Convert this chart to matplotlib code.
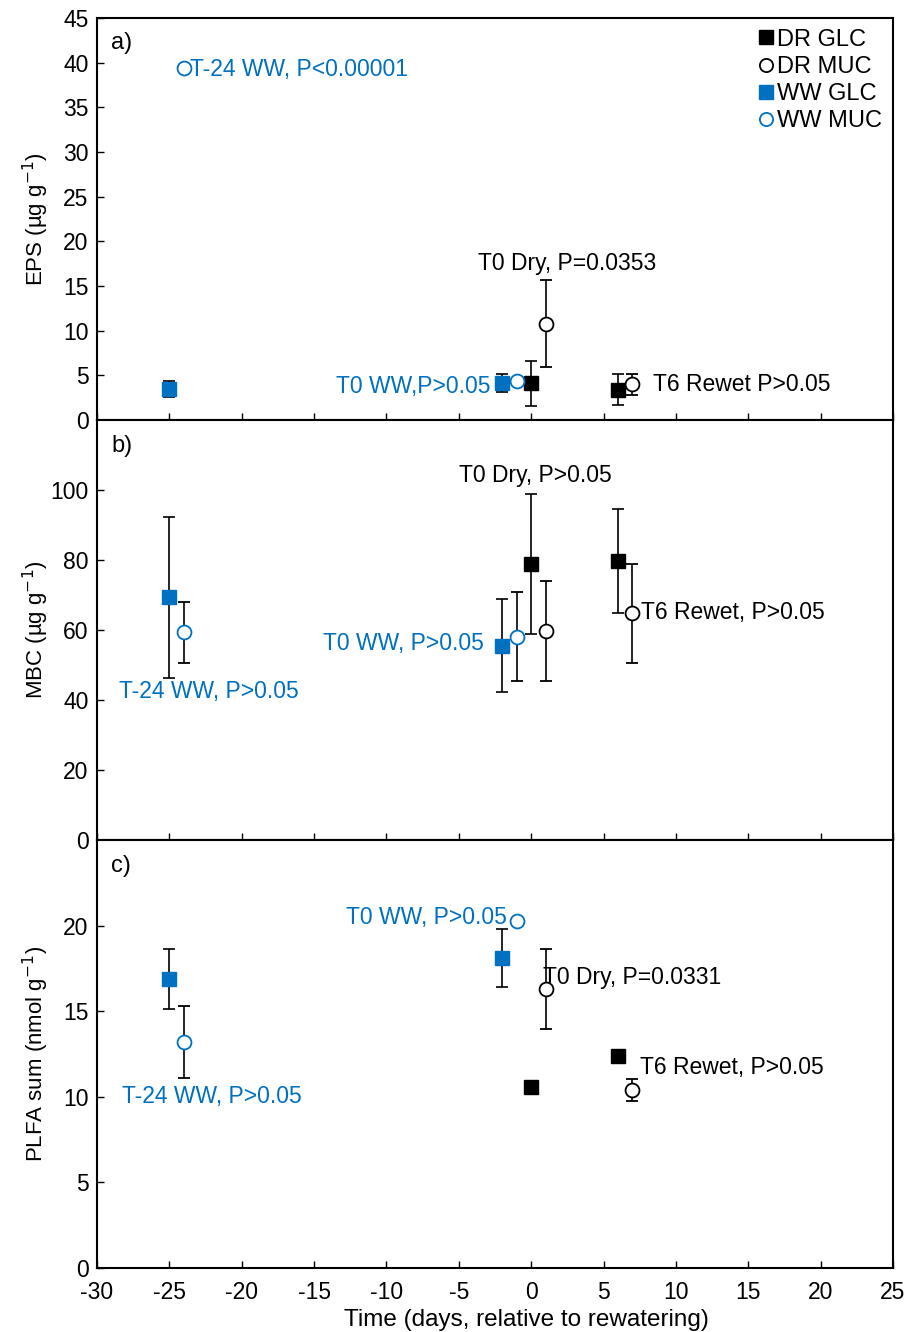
import numpy as np
import matplotlib.pyplot as plt
from matplotlib.lines import Line2D

plt.rcParams['font.family'] = ['Liberation Sans', 'DejaVu Sans']
plt.rcParams['font.size'] = 16.5
plt.rcParams['axes.unicode_minus'] = False

blue = '#0070C0'

# x positions (days, offset so the groups don't overlap)
x_ww_glc = [-25, -2]
x_ww_muc = [-24, -1]
x_dr_glc = [0, 6]
x_dr_muc = [1, 7]

# panel a: EPS
eps_ww_glc = [3.5, 4.1]
eps_ww_glc_err = [0.9, 1.0]
eps_ww_muc = [39.4, 4.4]
eps_ww_muc_err = [0.0, 0.0]
eps_dr_glc = [4.1, 3.4]
eps_dr_glc_err = [2.5, 1.7]
eps_dr_muc = [10.8, 4.0]
eps_dr_muc_err = [4.9, 1.2]

# panel b: MBC
mbc_ww_glc = [69.3, 55.5]
mbc_ww_glc_err = [22.9, 13.3]
mbc_ww_muc = [59.3, 58.1]
mbc_ww_muc_err = [8.6, 12.7]
mbc_dr_glc = [78.9, 79.7]
mbc_dr_glc_err = [20.0, 14.8]
mbc_dr_muc = [59.6, 64.8]
mbc_dr_muc_err = [14.3, 14.1]

# panel c: PLFA sum
plfa_ww_glc = [16.9, 18.1]
plfa_ww_glc_err = [1.75, 1.7]
plfa_ww_muc = [13.2, 20.3]
plfa_ww_muc_err = [2.1, 0.0]
plfa_dr_glc = [10.6, 12.4]
plfa_dr_glc_err = [0.2, 0.2]
plfa_dr_muc = [16.3, 10.4]
plfa_dr_muc_err = [2.35, 0.65]

fig = plt.figure(figsize=(9.17, 13.32), dpi=100)
ax_a = fig.add_axes([0.1058, 0.6847, 0.868, 0.3018])
ax_b = fig.add_axes([0.1058, 0.3694, 0.868, 0.3153])
ax_c = fig.add_axes([0.1058, 0.0480, 0.868, 0.3213])


def draw(ax, wg, wge, wm, wme, dg, dge, dm, dme):
    ms = 10
    ebk = dict(ecolor='black', elinewidth=1.2, capsize=4, capthick=1.2, linestyle='none')
    ax.errorbar(x_dr_glc, dg, yerr=dge, marker='s', ms=ms, mfc='black', mec='black',
                zorder=3, **ebk)
    ax.errorbar(x_dr_muc, dm, yerr=dme, marker='o', ms=ms, mfc='white', mec='black',
                mew=1.3, zorder=3, **ebk)
    ax.errorbar(x_ww_glc, wg, yerr=wge, marker='s', ms=ms, mfc=blue, mec=blue,
                zorder=3, **ebk)
    ax.errorbar(x_ww_muc, wm, yerr=[e if e > 0 else np.nan for e in wme], marker='o', ms=ms,
                mfc='white', mec=blue, mew=1.3, zorder=3, **ebk)


draw(ax_a, eps_ww_glc, eps_ww_glc_err, eps_ww_muc, eps_ww_muc_err,
     eps_dr_glc, eps_dr_glc_err, eps_dr_muc, eps_dr_muc_err)
draw(ax_b, mbc_ww_glc, mbc_ww_glc_err, mbc_ww_muc, mbc_ww_muc_err,
     mbc_dr_glc, mbc_dr_glc_err, mbc_dr_muc, mbc_dr_muc_err)
draw(ax_c, plfa_ww_glc, plfa_ww_glc_err, plfa_ww_muc, plfa_ww_muc_err,
     plfa_dr_glc, plfa_dr_glc_err, plfa_dr_muc, plfa_dr_muc_err)

ax_a.set_ylim(0, 45)
ax_a.set_yticks(np.arange(0, 46, 5))
ax_b.set_ylim(0, 120)
ax_b.set_yticks(np.arange(0, 101, 20))
ax_c.set_ylim(0, 25)
ax_c.set_yticks(np.arange(0, 21, 5))

for ax in (ax_a, ax_b, ax_c):
    ax.set_xlim(-30, 25)
    ax.set_xticks(np.arange(-30, 26, 5))
    ax.tick_params(direction='in', length=5, width=1, labelsize=16.5, pad=6)
    for s in ax.spines.values():
        s.set_linewidth(1.5)
for ax in (ax_a, ax_b):
    ax.tick_params(labelbottom=False)
ax_c.tick_params(axis='x', pad=9)

ax_a.set_ylabel('EPS (µg g$^{-1}$)', fontsize=16)
ax_b.set_ylabel('MBC (µg g$^{-1}$)', fontsize=16)
ax_c.set_ylabel('PLFA sum (nmol g$^{-1}$)', fontsize=16)
ax_c.set_xlabel('Time (days, relative to rewatering)', fontsize=17.5)
ax_c.xaxis.set_label_coords(0.54, -0.095)
for ax in (ax_a, ax_b, ax_c):
    ax.yaxis.set_label_coords(-0.058, 0.5)

ax_a.text(0.018, 0.965, 'a)', transform=ax_a.transAxes, ha='left', va='top', fontsize=17)
ax_b.text(0.018, 0.965, 'b)', transform=ax_b.transAxes, ha='left', va='top', fontsize=17)
ax_c.text(0.018, 0.965, 'c)', transform=ax_c.transAxes, ha='left', va='top', fontsize=17)

# annotations
ax_a.text(-23.6, 39.2, 'T-24 WW, P<0.00001', color=blue, va='center', ha='left')
ax_a.text(-3.7, 17.5, 'T0 Dry, P=0.0353', color='black', va='center', ha='left')
ax_a.text(-2.8, 3.8, 'T0 WW,P>0.05', color=blue, va='center', ha='right')
ax_a.text(8.4, 4.0, 'T6 Rewet P>0.05', color='black', va='center', ha='left')

ax_b.text(-5.0, 104, 'T0 Dry, P>0.05', color='black', va='center', ha='left')
ax_b.text(-3.3, 56, 'T0 WW, P>0.05', color=blue, va='center', ha='right')
ax_b.text(7.6, 65.1, 'T6 Rewet, P>0.05', color='black', va='center', ha='left')
ax_b.text(-28.5, 42.3, 'T-24 WW, P>0.05', color=blue, va='center', ha='left')

ax_c.text(-1.7, 20.5, 'T0 WW, P>0.05', color=blue, va='center', ha='right')
ax_c.text(0.85, 17.0, 'T0 Dry, P=0.0331', color='black', va='center', ha='left')
ax_c.text(7.5, 11.7, 'T6 Rewet, P>0.05', color='black', va='center', ha='left')
ax_c.text(-28.3, 10.0, 'T-24 WW, P>0.05', color=blue, va='center', ha='left')

handles = [
    Line2D([], [], ls='none', marker='s', ms=9.5, mfc='black', mec='black'),
    Line2D([], [], ls='none', marker='o', ms=9.5, mfc='white', mec='black', mew=1.3),
    Line2D([], [], ls='none', marker='s', ms=9.5, mfc=blue, mec=blue),
    Line2D([], [], ls='none', marker='o', ms=9.5, mfc='white', mec=blue, mew=1.3),
]
labels = ['DR GLC', 'DR MUC', 'WW GLC', 'WW MUC']
ax_a.legend(handles, labels, loc='upper right', frameon=False, fontsize=17,
            handletextpad=0.0, handlelength=1.0, labelspacing=0.22,
            borderaxespad=0.05, bbox_to_anchor=(1.0, 1.0))

fig.savefig('out.png', dpi=100)
